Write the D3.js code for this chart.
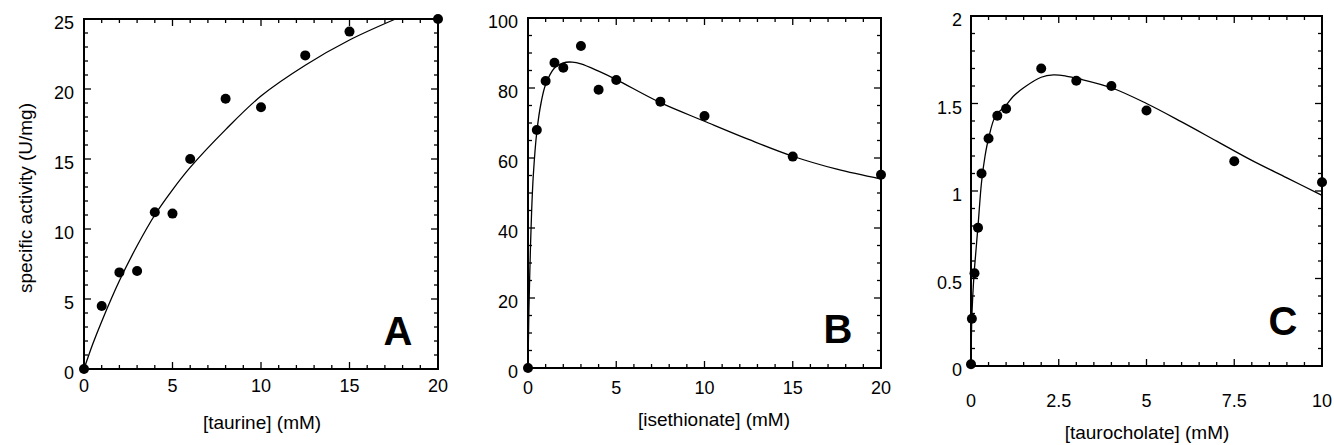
<!DOCTYPE html>
<html>
<head>
<meta charset="utf-8">
<script src="https://cdn.jsdelivr.net/npm/d3@7/dist/d3.min.js"></script>
<style>
  body { margin: 0; background: #fff; }
  svg { display: block; font-family: "Liberation Sans", Arial, sans-serif; }
</style>
</head>
<body>
<div id="chart"></div>
<script>
// ---- data ----

// A: taurine
var taurineConc = [0, 1, 2, 3, 4, 5, 6, 8, 10, 12.5, 15, 20];
var taurineAct  = [0, 4.5, 6.9, 7.0, 11.2, 11.1, 15.0, 19.3, 18.7, 22.4, 24.1, 25.0];
var taurineFitConc = [0, 0.5, 1, 2, 3, 4, 5, 6, 8, 10, 12.5, 15, 17.6];
var taurineFitAct  = [0, 1.8, 3.4, 6.3, 8.8, 11.0, 12.8, 14.4, 17.1, 19.5, 21.7, 23.5, 25.0];

// B: isethionate
var isethionateConc = [0, 0.5, 1, 1.5, 2, 3, 4, 5, 7.5, 10, 15, 20];
var isethionateAct  = [0, 68, 82, 87.2, 85.8, 92, 79.5, 82.3, 76.1, 72, 60.4, 55.2];
var isethionateFitConc = [0, 0.02, 0.05, 0.1, 0.2, 0.3, 0.5, 0.75, 1, 1.5, 2, 2.5, 3, 4, 5, 7.5, 10, 12.5, 15, 17.5, 20];
var isethionateFitAct  = [0, 7, 16, 27, 44, 55, 67.5, 76, 81, 85.7, 87.2, 87.4, 86.9, 84.8, 82.4, 75.8, 70.5, 65.3, 60.5, 56.8, 54.0];

// C: taurocholate
var taurocholateConc = [0, 0.025, 0.1, 0.2, 0.3, 0.5, 0.75, 1, 2, 3, 4, 5, 7.5, 10];
var taurocholateAct  = [0.01, 0.27, 0.53, 0.79, 1.1, 1.3, 1.43, 1.47, 1.7, 1.63, 1.6, 1.46, 1.17, 1.05];
var taurocholateFitConc = [0, 0.02, 0.05, 0.1, 0.2, 0.3, 0.4, 0.5, 0.7, 1, 1.2, 1.5, 2, 2.35, 2.7, 3.1, 4, 5, 6, 7, 8, 9, 10];
var taurocholateFitAct  = [0, 0.25, 0.4, 0.56, 0.8, 1.05, 1.2, 1.3, 1.43, 1.49, 1.54, 1.59, 1.65, 1.663, 1.657, 1.64, 1.59, 1.5, 1.395, 1.285, 1.175, 1.075, 0.975];

// tick labels
var taurineTicks = [0, 5, 10, 15, 20];
var taurineActTicks = [0, 5, 10, 15, 20, 25];
var isethionateTicks = [0, 5, 10, 15, 20];
var isethionateActTicks = [0, 20, 40, 60, 80, 100];
var taurocholateTicks = [0, 2.5, 5, 7.5, 10];
var taurocholateActTicks = [0, 0.5, 1, 1.5, 2];

var W = 1334, H = 445;

var svg = d3.select('#chart')
  .append('svg')
    .attr('width', W)
    .attr('height', H);

var panels = [
  { conc: taurineConc, act: taurineAct, fitConc: taurineFitConc, fitAct: taurineFitAct,
    xDomain: [0, 20], yDomain: [0, 25], xTicks: taurineTicks, yTicks: taurineActTicks,
    xMinor: 1, yMinor: 1,
    x0: 84, x1: 438, y0: 369, y1: 19,
    xLabelY: 392, yLabelGap: 10, title: '[taurine] (mM)', titleX: 262, titleY: 429,
    letter: 'A', letterX: 398, letterY: 345 },
  { conc: isethionateConc, act: isethionateAct, fitConc: isethionateFitConc, fitAct: isethionateFitAct,
    xDomain: [0, 20], yDomain: [0, 100], xTicks: isethionateTicks, yTicks: isethionateActTicks,
    xMinor: 1, yMinor: 5,
    x0: 528, x1: 881, y0: 368, y1: 18,
    xLabelY: 394, yLabelGap: 10, title: '[isethionate] (mM)', titleX: 714, titleY: 426,
    letter: 'B', letterX: 838, letterY: 343 },
  { conc: taurocholateConc, act: taurocholateAct, fitConc: taurocholateFitConc, fitAct: taurocholateFitAct,
    xDomain: [0, 10], yDomain: [0, 2], xTicks: taurocholateTicks, yTicks: taurocholateActTicks,
    xMinor: 0.5, yMinor: 0.1,
    x0: 971, x1: 1322, y0: 366, y1: 16,
    xLabelY: 407, yLabelGap: 9, title: '[taurocholate] (mM)', titleX: 1147, titleY: 439,
    letter: 'C', letterX: 1283, letterY: 335 }
];

panels.forEach(function(p) {
  var x = d3.scaleLinear().domain(p.xDomain).range([p.x0, p.x1]);
  var y = d3.scaleLinear().domain(p.yDomain).range([p.y0, p.y1]);
  var g = svg.append('g');

  // minor + major ticks, pointing inward on all four sides
  var xMinorTicks = d3.range(p.xDomain[0], p.xDomain[1] + 1e-9, p.xMinor);
  var yMinorTicks = d3.range(p.yDomain[0], p.yDomain[1] + 1e-9, p.yMinor);
  var isMajor = function(v, list) { return list.some(function(t) { return Math.abs(t - v) < 1e-9; }); };

  g.selectAll('.xt').data(xMinorTicks).enter().append('line')
    .attr('x1', function(d) { return x(d); }).attr('x2', function(d) { return x(d); })
    .attr('y1', p.y0).attr('y2', function(d) { return p.y0 - (isMajor(d, p.xTicks) ? 7 : 4); })
    .attr('stroke', '#000').attr('stroke-width', 1.3);
  g.selectAll('.xtt').data(xMinorTicks).enter().append('line')
    .attr('x1', function(d) { return x(d); }).attr('x2', function(d) { return x(d); })
    .attr('y1', p.y1).attr('y2', function(d) { return p.y1 + (isMajor(d, p.xTicks) ? 7 : 4); })
    .attr('stroke', '#000').attr('stroke-width', 1.3);
  g.selectAll('.yt').data(yMinorTicks).enter().append('line')
    .attr('y1', function(d) { return y(d); }).attr('y2', function(d) { return y(d); })
    .attr('x1', p.x0).attr('x2', function(d) { return p.x0 + (isMajor(d, p.yTicks) ? 7 : 4); })
    .attr('stroke', '#000').attr('stroke-width', 1.3);
  g.selectAll('.ytr').data(yMinorTicks).enter().append('line')
    .attr('y1', function(d) { return y(d); }).attr('y2', function(d) { return y(d); })
    .attr('x1', p.x1).attr('x2', function(d) { return p.x1 - (isMajor(d, p.yTicks) ? 7 : 4); })
    .attr('stroke', '#000').attr('stroke-width', 1.3);

  // frame
  g.append('rect')
    .attr('x', p.x0).attr('y', p.y1)
    .attr('width', p.x1 - p.x0).attr('height', p.y0 - p.y1)
    .attr('fill', 'none').attr('stroke', '#000').attr('stroke-width', 2);

  // tick labels
  g.selectAll('.xl').data(p.xTicks).enter().append('text')
    .attr('x', function(d) { return x(d); })
    .attr('y', p.xLabelY)
    .attr('text-anchor', 'middle')
    .attr('font-size', 18)
    .text(function(d) { return d; });
  g.selectAll('.yl').data(p.yTicks).enter().append('text')
    .attr('x', p.x0 - p.yLabelGap)
    .attr('y', function(d) { return y(d) + 10; })
    .attr('text-anchor', 'end')
    .attr('font-size', 18)
    .text(function(d) { return d; });

  // axis title
  g.append('text')
    .attr('x', p.titleX).attr('y', p.titleY)
    .attr('text-anchor', 'middle')
    .attr('font-size', 19)
    .text(p.title);

  // fitted curve
  var fit = p.fitConc.map(function(c, i) { return [c, p.fitAct[i]]; });
  g.append('path')
    .datum(fit)
    .attr('fill', 'none').attr('stroke', '#000').attr('stroke-width', 1.3)
    .attr('d', d3.line()
      .x(function(d) { return x(d[0]); })
      .y(function(d) { return y(d[1]); })
      .curve(d3.curveCatmullRom.alpha(0.5)));

  // measured points
  g.selectAll('circle').data(p.conc).enter().append('circle')
    .attr('cx', function(d) { return x(d); })
    .attr('cy', function(d, i) { return y(p.act[i]); })
    .attr('r', 5)
    .attr('fill', '#000');

  // panel letter
  g.append('text')
    .attr('x', p.letterX).attr('y', p.letterY)
    .attr('text-anchor', 'middle')
    .attr('font-size', 40).attr('font-weight', 'bold')
    .text(p.letter);
});

// shared y-axis title
svg.append('text')
  .attr('transform', 'translate(32,198) rotate(-90)')
  .attr('text-anchor', 'middle')
  .attr('font-size', 19)
  .text('specific activity (U/mg)');
</script>
</body>
</html>
